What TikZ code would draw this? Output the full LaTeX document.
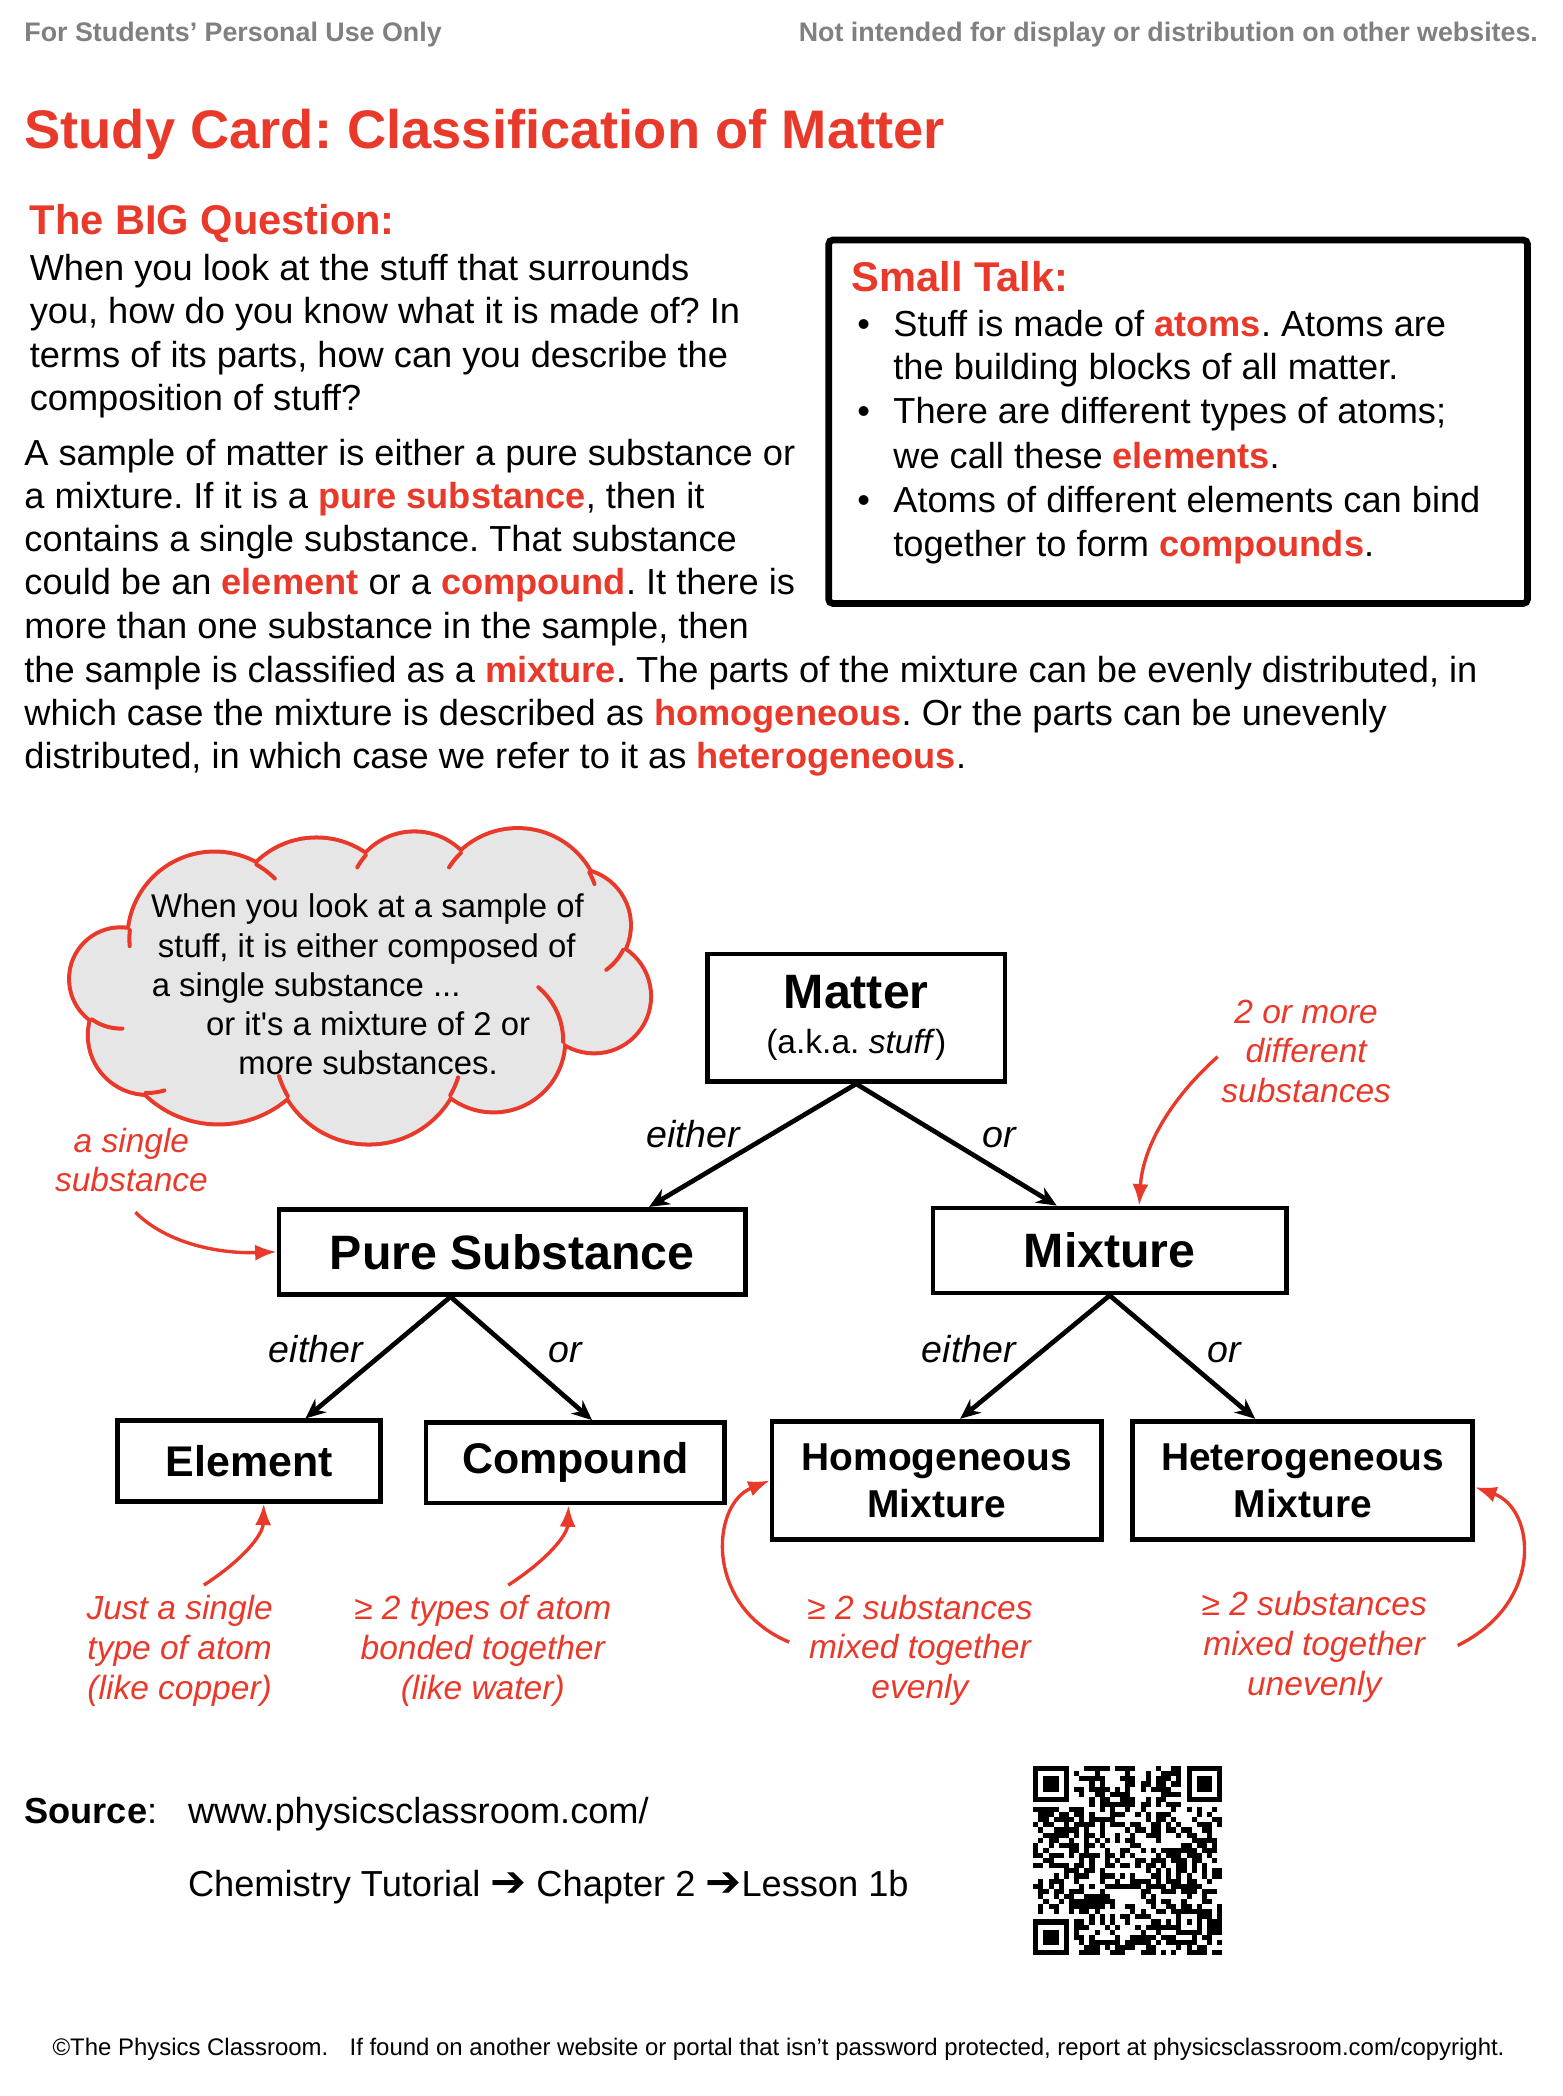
\documentclass[tikz,border=0pt]{standalone}
\usepackage{fontspec}
\setmainfont{Liberation Sans}
\newfontfamily\arrowfont{DejaVu Sans}
\usetikzlibrary{arrows.meta}
\definecolor{cardred}{RGB}{232,57,42}
\definecolor{headgray}{RGB}{128,128,128}
\definecolor{cloudgray}{RGB}{230,230,230}
\newcommand{\hl}[1]{\textcolor{cardred}{\bfseries #1}}
\newcommand{\nextstep}{{\arrowfont\fontsize{32}{32}\selectfont\bfseries ➔}}
\frenchspacing

\begin{document}
\begin{tikzpicture}[x=1pt, y=-1pt,
	bodytext/.style={inner sep=0pt, anchor=base west, font=\fontsize{27}{32}\selectfont},
	headtext/.style={inner sep=0pt, font=\fontsize{20}{24}\selectfont\bfseries, text=headgray},
	redhead/.style={inner sep=0pt, anchor=base west, text=cardred, font=\fontsize{31}{36}\selectfont\bfseries},
	treebox/.style={draw, line width=3.5pt, inner sep=0pt, align=center},
	branch/.style={line width=3.5pt, -{Stealth[length=15pt,width=13pt]}},
	choice/.style={inner sep=0pt, anchor=base, font=\fontsize{28}{32}\selectfont\itshape},
	note/.style={inner sep=0pt, align=center, text=cardred, font=\fontsize{25}{29.5}\selectfont\itshape},
	pointer/.style={draw=cardred, line width=2.5pt, -{Latex[length=16pt,width=12pt]}},
	cloudtext/.style={inner sep=0pt, anchor=base, font=\fontsize{24.5}{29}\selectfont},
	hook/.style={cardred, line width=3pt, line cap=round}]
	\path[use as bounding box, fill=white] (0,0) rectangle (1165,1563);

	\node[headtext, anchor=base west] (usage) at (18,31) {For Students’ Personal Use Only};
	\node[headtext, anchor=base east] (notice) at (1147,31) {Not intended for display or distribution on other websites.};
	\node[inner sep=0pt, anchor=base west, text=cardred, font=\fontsize{40.5}{48}\selectfont\bfseries] (title) at (18,111) {Study Card: Classification of Matter};

	\node[redhead] (bigq) at (22,175) {The BIG Question:};
	\node[bodytext] (q1) at (22,209) {When you look at the stuff that surrounds};
	\node[bodytext] (q2) at (22,241) {you, how do you know what it is made of? In};
	\node[bodytext] (q3) at (22,274) {terms of its parts, how can you describe the};
	\node[bodytext] (q4) at (22,306) {composition of stuff?};
	\node[bodytext] (p1) at (18,347) {A sample of matter is either a pure substance or};
	\node[bodytext] (p2) at (18,379) {a mixture. If it is a \hl{pure substance}, then it};
	\node[bodytext] (p3) at (18,411) {contains a single substance. That substance};
	\node[bodytext] (p4) at (18,443) {could be an \hl{element} or a \hl{compound}. It there is};
	\node[bodytext] (p5) at (18,476) {more than one substance in the sample, then};
	\node[bodytext] (p6) at (18,509) {the sample is classified as a \hl{mixture}. The parts of the mixture can be evenly distributed, in};
	\node[bodytext] (p7) at (18,541) {which case the mixture is described as \hl{homogeneous}. Or the parts can be unevenly};
	\node[bodytext] (p8) at (18,573) {distributed, in which case we refer to it as \hl{heterogeneous}.};

	\node[draw, line width=5pt, rounded corners=3pt, inner sep=0pt, anchor=north west, minimum width=521pt, minimum height=271pt] (talkbox) at (615.5,176.5) {};
	\node[redhead] (talk) at (635,217) {Small Talk:};
	\node[bodytext, anchor=base] (b1) at (644,251) {\textbullet};
	\node[bodytext, anchor=base] (b2) at (644,316) {\textbullet};
	\node[bodytext, anchor=base] (b3) at (644,382.5) {\textbullet};
	\node[bodytext] (t1) at (666,251) {Stuff is made of \hl{atoms}. Atoms are};
	\node[bodytext] (t2) at (666,283) {the building blocks of all matter.};
	\node[bodytext] (t3) at (666,316) {There are different types of atoms;};
	\node[bodytext] (t4) at (666,349) {we call these \hl{elements}.};
	\node[bodytext] (t5) at (666,382.5) {Atoms of different elements can bind};
	\node[bodytext] (t6) at (666,415) {together to form \hl{compounds}.};

	% thought cloud
	\foreach \cx/\cy/\cr in {160/700/63.5, 236/689/63, 309/670/48.5, 386/680/61, 428/690/41, 443/743/41, 368/776/52, 275/782/70, 163/759/78, 110/772/43, 90/730/37}
		\draw[cardred, line width=6pt] (\cx,\cy) circle[radius=\cr pt];
	\foreach \cx/\cy/\cr in {160/700/63.5, 236/689/63, 309/670/48.5, 386/680/61, 428/690/41, 443/743/41, 368/776/52, 275/782/70, 163/759/78, 110/772/43, 90/730/37}
		\fill[cloudgray] (\cx,\cy) circle[radius=\cr pt];
	\fill[cloudgray] (270,738) ellipse[x radius=175pt, y radius=68pt];
	\foreach \cx/\cy/\cr/\ta/\tb in {160/700/63.5/-60.6/-45, 309/670/48.5/-151.4/-138.4, 386/680/61/-147/-133.9, 386/680/61/-28.8/-20, 428/690/41/26.4/54, 368/776/52/-50/1, 275/782/70/17.8/29.8, 275/782/70/149.6/163, 110/772/43/73/91.8, 90/730/37/88/125.3, 160/700/63.5/175/185.8}
		\draw[hook] plot[domain=\ta:\tb, samples=10] ({\cx+\cr*cos(\x)}, {\cy+\cr*sin(\x)});
	\node[cloudtext] (c1) at (274,684) {When you look at a sample of};
	\node[cloudtext] (c2) at (273.5,714) {stuff, it is either composed of};
	\node[cloudtext, anchor=base west] (c3) at (113,743) {a single substance ...};
	\node[cloudtext] (c4) at (274.5,772) {or it\textquotesingle s a mixture of 2 or};
	\node[cloudtext] (c5) at (274.5,801) {more substances.};

	\node[treebox, minimum width=222pt, minimum height=95pt, font=\fontsize{25}{34}\selectfont] (matter) at (638.5,759) {{\fontsize{36}{40}\selectfont\bfseries Matter}\\(a.k.a. \textit{stuff})};
	\node[treebox, minimum width=348pt, minimum height=63.5pt, font=\fontsize{36}{40}\selectfont\bfseries] (pure) at (382,933.5) {Pure Substance};
	\node[treebox, minimum width=263.5pt, minimum height=63.5pt, font=\fontsize{36}{40}\selectfont\bfseries] (mixture) at (827.5,932.5) {Mixture};
	\node[treebox, minimum width=196pt, minimum height=60pt, font=\fontsize{32}{36}\selectfont\bfseries] (element) at (185.75,1089.5) {Element};
	\node[treebox, minimum width=222.5pt, minimum height=60pt, font=\fontsize{32}{36}\selectfont\bfseries] (compound) at (429,1090.75) {Compound};
	\node[treebox, minimum width=245.5pt, minimum height=88.5pt, font=\fontsize{29}{35}\selectfont\bfseries] (homog) at (698.5,1104) {Homogeneous\\Mixture};
	\node[treebox, minimum width=253.5pt, minimum height=88.5pt, font=\fontsize{29}{35}\selectfont\bfseries] (hetero) at (971.5,1104) {Heterogeneous\\Mixture};

	\draw[branch] (matter.south) -- ([xshift=102pt]pure.north);
	\draw[branch] (matter.south) -- ([xshift=-39.5pt]mixture.north);
	\draw[branch] ([xshift=-46pt]pure.south) -- ([xshift=42pt]element.north);
	\draw[branch] ([xshift=-46pt]pure.south) -- ([xshift=12.5pt]compound.north);
	\draw[branch] (mixture.south) -- ([xshift=17.5pt]homog.north);
	\draw[branch] (mixture.south) -- ([xshift=-35.5pt]hetero.north);

	\node[choice] (either1) at (517,856) {either};
	\node[choice] (or1) at (745,856) {or};
	\node[choice] (either2) at (235.5,1016) {either};
	\node[choice] (or2) at (421.5,1016) {or};
	\node[choice] (either3) at (722.5,1016) {either};
	\node[choice] (or3) at (913,1016) {or};

	\node[note] (single) at (98,865) {a single\\substance};
	\node[note] (moresub) at (974,784) {2 or more\\different\\substances};
	\node[note] (justone) at (134,1231) {Just a single\\type of atom\\(like copper)};
	\node[note] (twotypes) at (360,1231) {≥ 2 types of atom\\bonded together\\(like water)};
	\node[note] (homnote) at (686,1230.5) {≥ 2 substances\\mixed together\\evenly};
	\node[note] (hetnote) at (980,1228) {≥ 2 substances\\mixed together\\unevenly};

	\coordinate (singletail) at (101,904);
	\coordinate (moretail) at (908,788);
	\coordinate (elemtail) at (152,1182);
	\coordinate (comptail) at (379,1182);
	\coordinate (homtail) at (588.5,1224.5);
	\coordinate (hettail) at (1087,1227);
	\draw[pointer] (singletail) .. controls (125,928) and (165,935) .. (pure.west);
	\draw[pointer] (moretail) .. controls (870,822) and (852,858) .. ([xshift=22pt]mixture.north);
	\draw[pointer] (elemtail) .. controls (180,1164) and (196,1145) .. ([xshift=11pt]element.south);
	\draw[pointer] (comptail) .. controls (407,1164) and (423,1145) .. ([xshift=-5pt]compound.south);
	\draw[pointer] (homtail) .. controls (525,1198) and (530,1122) .. (homog.west);
	\draw[pointer] (hettail) .. controls (1152,1195) and (1145,1125) .. ([yshift=-5pt]hetero.east);

	\node[bodytext] (source) at (18,1360) {\textbf{Source}:};
	\node[bodytext] (site) at (140,1360) {www.physicsclassroom.com/};
	\node[bodytext] (path) at (140,1414) {Chemistry Tutorial \nextstep{} Chapter 2 \nextstep Lesson 1b};

	\def\qrm{3.81}
	\pgfmathsetseed{2718}
	\foreach \i in {0,...,36}{
		\foreach \j in {0,...,36}{
			\pgfmathtruncatemacro{\qrbit}{rnd<0.5}
			\ifnum\qrbit=1
				\fill (770.5+\i*\qrm,1317+\j*\qrm) rectangle ++(\qrm,\qrm);
			\fi
		}
	}
	\foreach \wx/\wy in {0/0,29/0,0/29}
		\fill[white] (770.5+\wx*\qrm,1317+\wy*\qrm) rectangle ++(8*\qrm,8*\qrm);
	\foreach \fx/\fy in {0/0,30/0,0/30}{
		\fill (770.5+\fx*\qrm,1317+\fy*\qrm) rectangle ++(7*\qrm,7*\qrm);
		\fill[white] (770.5+\fx*\qrm+\qrm,1317+\fy*\qrm+\qrm) rectangle ++(5*\qrm,5*\qrm);
		\fill (770.5+\fx*\qrm+2*\qrm,1317+\fy*\qrm+2*\qrm) rectangle ++(3*\qrm,3*\qrm);
	}
	\fill (770.5+28*\qrm,1317+28*\qrm) rectangle ++(5*\qrm,5*\qrm);
	\fill[white] (770.5+29*\qrm,1317+29*\qrm) rectangle ++(3*\qrm,3*\qrm);
	\fill (770.5+30*\qrm,1317+30*\qrm) rectangle ++(\qrm,\qrm);

	\node[inner sep=0pt, anchor=base west, font=\fontsize{17.85}{22}\selectfont] (footer) at (39,1533) {©The Physics Classroom.\hspace{11pt} If found on another website or portal that isn’t password protected, report at physicsclassroom.com/copyright.};
\end{tikzpicture}
\end{document}
